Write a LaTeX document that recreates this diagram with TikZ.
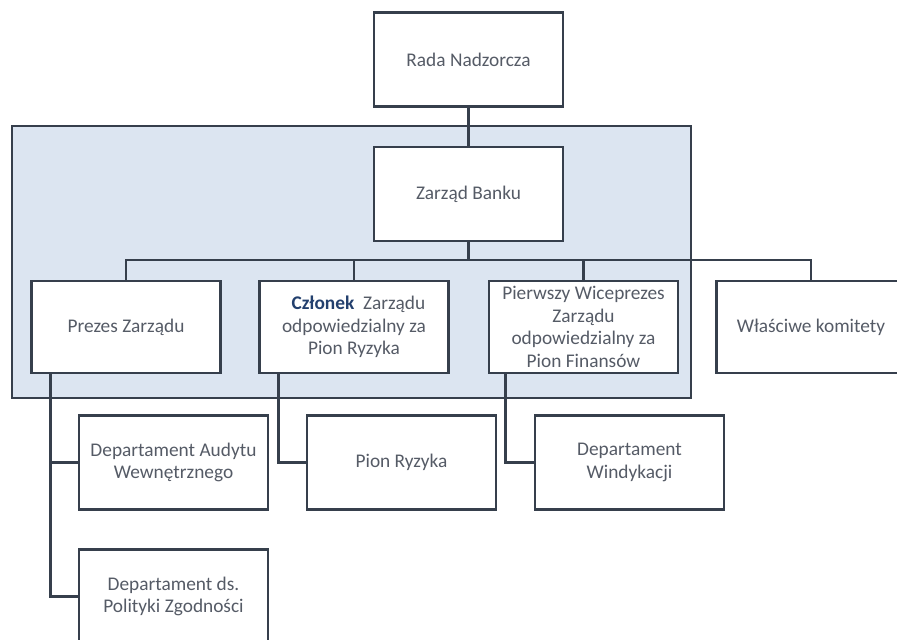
\documentclass[tikz,border=0pt]{standalone}
\usepackage{fontspec}
\setmainfont{Carlito}
\usepackage{tikz}
\usetikzlibrary{calc}
\definecolor{INK}{HTML}{363F4C}
\definecolor{TEXT}{HTML}{555B66}
\definecolor{NAVY}{HTML}{23406E}
\definecolor{PANEL}{HTML}{DCE5F1}
\begin{document}
\begin{tikzpicture}[x=0.03cm,y=-0.03cm]
\tikzset{box/.style={draw=INK,line width=2.2pt,fill=white,text=TEXT,align=center,inner sep=2pt,
  font=\fontsize{16.5}{19.4}\selectfont,minimum width=189*0.03cm,minimum height=94*0.03cm},
 lvl/.style={box,minimum height=92*0.03cm},
 ln/.style={INK,line width=2.2pt},
 panel/.style={draw=INK,line width=2.2pt,fill=PANEL,minimum width=679*0.03cm,minimum height=272*0.03cm}}
\useasboundingbox (0,0) rectangle (897,639);
\clip (0,0) rectangle (897,639);
\node[panel] (zarzadgr) at (351.5,262) {};
\node[box] (rada) at (468.5,59.5) {Rada Nadzorcza};
\node[box] (zarzad) at (468.5,194) {Zarząd Banku};
\coordinate (szyna) at (468.5,260);
\node[lvl] (prezes) at (126,327) {Prezes Zarządu};
\node[lvl] (czlonek) at (354,327) {\ \ {\bfseries\color{NAVY}Członek}\ \ Zarządu\\odpowiedzialny za\\Pion Ryzyka};
\node[lvl] (pierwszy) at (583.5,327) {Pierwszy Wiceprezes\\Zarządu\\odpowiedzialny za\\Pion Finansów};
\node[lvl] (komitety) at (811,327) {Właściwe komitety};
\node[box] (audyt) at (173.5,462.5) {Departament Audytu\\Wewnętrznego};
\node[box] (polityka) at (173.5,596.5) {Departament ds.\\Polityki Zgodności};
\node[box] (pion) at (401.5,462.5) {Pion Ryzyka};
\node[box] (windykacja) at (629.5,462.5) {Departament\\Windykacji};
\draw[ln] (rada.south) -- (zarzad.north);
\draw[ln] (zarzad.south) -- (szyna);
\draw[ln] (prezes.north) -- (prezes.north |- szyna) -- (komitety.north |- szyna) -- (komitety.north);
\draw[ln] (czlonek.north) -- (czlonek.north |- szyna);
\draw[ln] (pierwszy.north) -- (pierwszy.north |- szyna);
\draw[ln] ($(prezes.south west)+(20,0)$) |- (polityka.west);
\draw[ln] ($(prezes.south west)+(20,0)$) |- (audyt.west);
\draw[ln] ($(czlonek.south west)+(20,0)$) |- (pion.west);
\draw[ln] ($(pierwszy.south west)+(18,0)$) |- (windykacja.west);
\end{tikzpicture}
\end{document}
